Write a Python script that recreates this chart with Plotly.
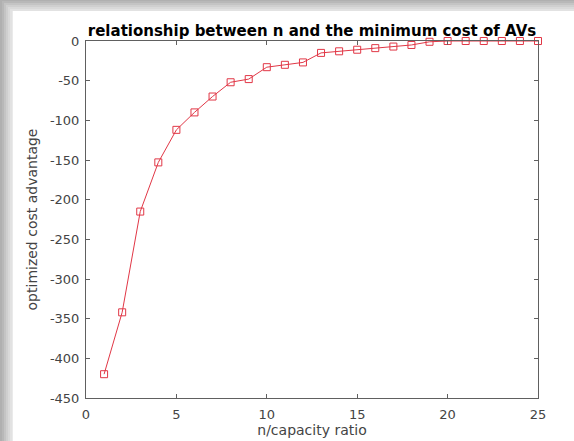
import plotly.graph_objects as go

x_ratio = list(range(1, 26))
cost_adv = [-420, -342, -215, -153, -112, -90, -70, -52, -48, -33, -30, -27,
            -15, -13, -11, -9, -7, -5, -1, 0, 0, 0, 0, 0, 0]
x_ticks = [0, 5, 10, 15, 20, 25]
y_ticks = [0, -50, -100, -150, -200, -250, -300, -350, -400, -450]
y_ticktext = ["0", "-50", "-100", "-150", "-200", "-250", "-300", "-350", "-400", "-450"]

W, H = 574, 441
fig = go.Figure()
fig.add_trace(go.Scatter(
    x=x_ratio, y=cost_adv, mode="lines+markers",
    line=dict(color="rgb(225,55,70)", width=1),
    marker=dict(symbol="square-open", size=7, color="rgb(225,55,70)", line=dict(width=1)),
    showlegend=False, cliponaxis=False))

# frame shadow and white card
shapes = []
for i, c in enumerate(["#b8b8b8", "#c4c4c4", "#cfcfcf", "#d9d9d9", "#e2e2e2", "#eaeaea"]):
    shapes.append(dict(type="rect", xref="paper", yref="paper",
                       x0=(2 + i*2 - 86) / 452, x1=(W - 86) / 452 + 0.1,
                       y0=-1, y1=(398 - (1 + i*2)) / 357,
                       fillcolor=c, line=dict(width=0), layer="below"))
shapes.append(dict(type="rect", xref="paper", yref="paper",
                   x0=(13 - 86) / 452, x1=(W - 86) / 452 + 0.1,
                   y0=-1, y1=(398 - 11) / 357,
                   fillcolor="white", line=dict(width=0), layer="below"))

axcommon = dict(showgrid=False, zeroline=False, showline=True, linecolor="#606060",
                linewidth=1, mirror="ticks", ticks="inside", ticklen=4, automargin=False,
                tickcolor="#606060", tickfont=dict(family="DejaVu Sans", size=13, color="#444444"))

fig.update_layout(
    width=W, height=H,
    margin=dict(l=86, r=36, t=41, b=43),
    paper_bgcolor="#b0b0b0", plot_bgcolor="white",
    shapes=shapes,
    title=dict(text="<b>relationship between n and the minimum cost of AVs</b>",
               x=(86 + 538) / 2 / W, xanchor="center", y=1 - 31 / H, yanchor="middle",
               font=dict(family="DejaVu Sans", size=15, color="black")),
    xaxis=dict(range=[0, 25], tickvals=x_ticks, ticklabelstandoff=4,
               title=dict(text="n/capacity ratio", standoff=4,
                          font=dict(family="DejaVu Sans", size=14, color="#444444")),
               **axcommon),
    yaxis=dict(range=[-450, 0], tickvals=y_ticks, ticktext=y_ticktext, ticklabelstandoff=3,
               title=dict(text="optimized cost advantage", standoff=8,
                          font=dict(family="DejaVu Sans", size=14, color="#444444")),
               **axcommon),
)
fig.write_html("out.html", config={"displayModeBar": False},
               post_script="document.body.style.margin='0';")
